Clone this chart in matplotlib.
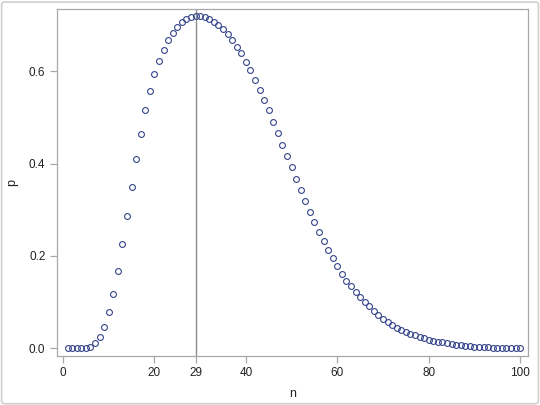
import matplotlib
matplotlib.use("Agg")
import matplotlib.pyplot as plt
from matplotlib import patches
import numpy as np

# values
n = np.arange(1, 101)
p = [0.0, 0.0, 0.0, 0.0, 0.0, 0.0035, 0.011, 0.0245, 0.047, 0.078,
     0.118, 0.167, 0.226, 0.286, 0.350, 0.410, 0.465, 0.515, 0.557, 0.593,
     0.622, 0.646, 0.668, 0.682, 0.696, 0.706, 0.713, 0.718, 0.720, 0.720,
     0.718, 0.713, 0.707, 0.700, 0.692, 0.681, 0.668, 0.653, 0.639, 0.620,
     0.602, 0.582, 0.560, 0.538, 0.515, 0.490, 0.467, 0.441, 0.417, 0.392,
     0.367, 0.343, 0.319, 0.296, 0.274, 0.252, 0.232, 0.213, 0.195, 0.178,
     0.161, 0.146, 0.134, 0.122, 0.111, 0.100, 0.091, 0.081, 0.072, 0.064,
     0.057, 0.051, 0.045, 0.040, 0.036, 0.032, 0.028, 0.025, 0.022, 0.019,
     0.017, 0.014, 0.013, 0.011, 0.0093, 0.008, 0.0065, 0.005, 0.0043, 0.0035,
     0.003, 0.0025, 0.002, 0.0017, 0.0014, 0.0012, 0.001, 0.0008, 0.0006, 0.0005]
n_max = 29
xticks = [0, 20, 29, 40, 60, 80, 100]
yticks = [0.0, 0.2, 0.4, 0.6]

plt.rcParams['font.family'] = ['Liberation Sans', 'DejaVu Sans']

fig = plt.figure(figsize=(5.4, 4.05), dpi=100)
ax = fig.add_axes([0.106, 0.122, 0.872, 0.855])

# light frame around the whole picture
fig.patches.append(patches.FancyBboxPatch((0.003, 0.003), 0.994, 0.992,
                                          boxstyle="round,pad=0,rounding_size=0.006",
                                          transform=fig.transFigure, fill=False,
                                          edgecolor='#d0d0d0', linewidth=1.2))

ax.axvline(n_max, color='#8c8c8c', linewidth=1.0, zorder=1)
ax.plot(n, p, linestyle='none', marker='o', markersize=4.2,
        markerfacecolor='none', markeredgecolor='#34448a', markeredgewidth=0.8, zorder=2)

ax.set_xlim(-1.25, 101.75)
ax.set_ylim(-0.0156, 0.734)
ax.set_xticks(xticks)
ax.set_yticks(yticks)
ax.set_yticklabels([f"{v:.1f}" for v in yticks])

for s in ax.spines.values():
    s.set_color('#a8a8a8')
    s.set_linewidth(0.9)
ax.tick_params(colors='#a8a8a8', labelcolor='#222222', labelsize=8.5, length=5, width=0.9)

ax.set_xlabel('n', fontsize=9, color='#222222', labelpad=6)
ax.set_ylabel('p', fontsize=9, color='#222222', labelpad=8)

fig.savefig('out.png', dpi=100)
